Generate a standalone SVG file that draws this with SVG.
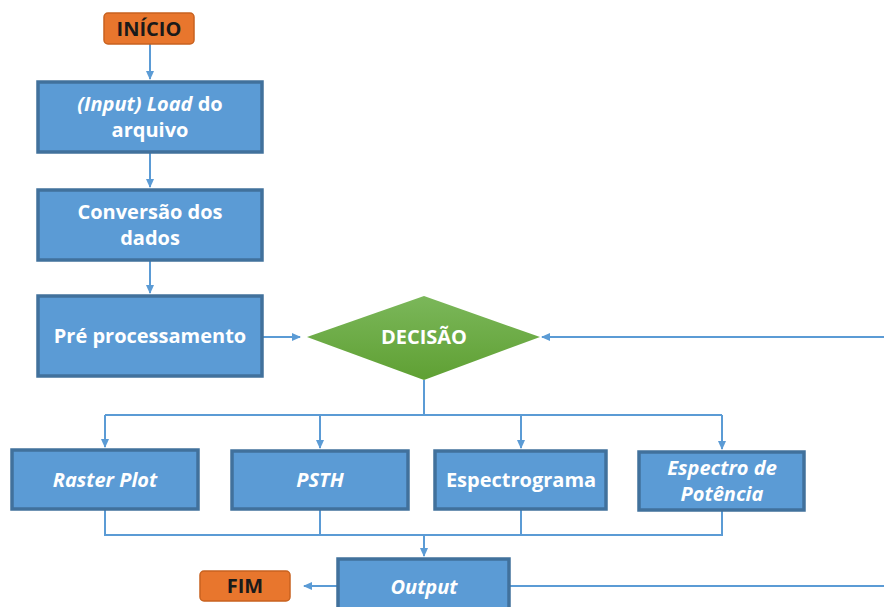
<svg xmlns="http://www.w3.org/2000/svg" width="884" height="607" viewBox="0 0 884 607">
<style>
.box{fill:#5B9BD5;stroke:#41719C;stroke-width:3.5}
.term{fill:#E8762D;stroke:#C8621F;stroke-width:1.5}
.t{font-family:"Open Sans","Noto Sans",sans-serif;font-weight:bold;font-size:20px;fill:#fff;text-anchor:middle}
.tk{font-family:"Open Sans","Noto Sans",sans-serif;font-weight:bold;font-size:20px;fill:#1a1a1a;text-anchor:middle}
.i{font-style:italic}
.c{fill:none;stroke:#5B9BD5;stroke-width:2}
</style>
<defs>
<marker id="a" markerWidth="10" markerHeight="10" refX="8" refY="5" orient="auto" markerUnits="userSpaceOnUse">
<path d="M0,1 L9,5 L0,9 z" fill="#5B9BD5"/>
</marker>
<linearGradient id="g" x1="0" y1="0" x2="0" y2="1">
<stop offset="0" stop-color="#7BB75A"/>
<stop offset="1" stop-color="#5FA033"/>
</linearGradient>
</defs>
<g id="connectors">
<path class="c" d="M150,44 V79" marker-end="url(#a)"/>
<path class="c" d="M150,153 V187" marker-end="url(#a)"/>
<path class="c" d="M150,261 V293" marker-end="url(#a)"/>
<path class="c" d="M263,337 H300" marker-end="url(#a)"/>
<path class="c" d="M884,337 H542" marker-end="url(#a)"/>
<path class="c" d="M424,380 V415"/>
<path class="c" d="M105,415 H722"/>
<path class="c" d="M105,415 V447" marker-end="url(#a)"/>
<path class="c" d="M320,415 V448" marker-end="url(#a)"/>
<path class="c" d="M521,415 V448" marker-end="url(#a)"/>
<path class="c" d="M722,415 V449" marker-end="url(#a)"/>
<path class="c" d="M105,509 V535 H722 V511"/>
<path class="c" d="M320,510 V535"/>
<path class="c" d="M521,510 V535"/>
<path class="c" d="M424,535 V556" marker-end="url(#a)"/>
<path class="c" d="M337,586 H304" marker-end="url(#a)"/>
<path class="c" d="M510,586 H884"/>
</g>
<g id="inicio">
<rect class="term" x="104" y="13" width="90" height="31" rx="4"/>
<text class="tk" x="149" y="36">INÍCIO</text>
</g>
<g id="load">
<rect class="box" x="38" y="82" width="224" height="70"/>
<text class="t" x="150" y="111"><tspan class="i">(Input) Load</tspan> do</text>
<text class="t" x="150" y="137">arquivo</text>
</g>
<g id="conversao">
<rect class="box" x="38" y="190" width="224" height="70"/>
<text class="t" x="150" y="219">Conversão dos</text>
<text class="t" x="150" y="245">dados</text>
</g>
<g id="preproc">
<rect class="box" x="38" y="296" width="224" height="80"/>
<text class="t" x="150" y="343">Pré processamento</text>
</g>
<g id="decisao">
<polygon points="307,337 424,296 540,337 424,380" fill="url(#g)"/>
<text class="t" x="424" y="344">DECISÃO</text>
</g>
<g id="raster">
<rect class="box" x="12" y="450" width="186" height="59"/>
<text class="t i" x="105" y="487">Raster Plot</text>
</g>
<g id="psth">
<rect class="box" x="232" y="451" width="176" height="58"/>
<text class="t i" x="320" y="487">PSTH</text>
</g>
<g id="espectrograma">
<rect class="box" x="435" y="451" width="171" height="58"/>
<text class="t" x="521" y="487">Espectrograma</text>
</g>
<g id="espectro">
<rect class="box" x="639" y="452" width="165" height="58"/>
<text class="t i" x="722" y="475">Espectro de</text>
<text class="t i" x="722" y="501">Potência</text>
</g>
<g id="output">
<rect class="box" x="338" y="559" width="171" height="52"/>
<text class="t i" x="424" y="594">Output</text>
</g>
<g id="fim">
<rect class="term" x="200" y="571" width="90" height="30" rx="4"/>
<text class="tk" x="245" y="593">FIM</text>
</g>
</svg>
